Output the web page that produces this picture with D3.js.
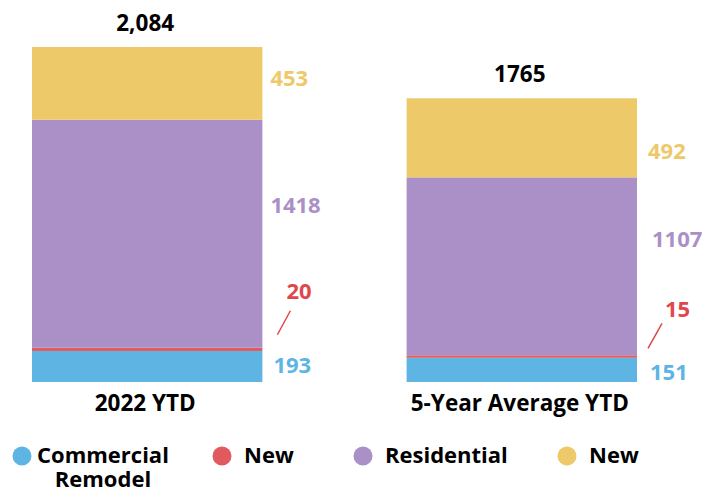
<!DOCTYPE html>
<html>
<head>
<meta charset="utf-8">
<script src="https://cdn.jsdelivr.net/npm/d3@7"></script>
<style>
  body { margin: 0; background: #fff; }
  text { font-family: "Open Sans", sans-serif; font-weight: 700; }
</style>
</head>
<body>
<div id="chart"></div>
<script>
// Data
const categories = ["2022 YTD", "5-Year Average YTD"];
const totalLabels = ["2,084", "1765"];
const commercialRemodel = [193, 151];
const commercialNew = [20, 15];
const residential = [1418, 1107];
const residentialNew = [453, 492];
const seriesNames = ["Commercial Remodel", "New", "Residential", "New"];

const keys = ["cr", "cn", "rr", "rn"];
const colors = {cr: "#5EB5E4", cn: "#E05A5E", rr: "#AA90C7", rn: "#EEC96A"};
const textColors = {cr: "#5EB5E4", cn: "#E0474C", rr: "#AA90C7", rn: "#EEC96A"};

// label nudges (px) from bar right edge / segment top, per category
const labelDx = {cr: [11, 13], cn: [24, 28], rr: [8, 15], rn: [8, 11]};
const labelDy = {cr: [22, 22], cn: [-49, -38], rr: [93, 70], rn: [39, 61]};

const table = categories.map((c, i) => ({
  cat: c,
  cr: commercialRemodel[i],
  cn: commercialNew[i],
  rr: residential[i],
  rn: residentialNew[i]
}));

const width = 706, height = 493;
const svg = d3.select("#chart").append("svg")
  .attr("width", width)
  .attr("height", height);

const x = d3.scaleBand()
  .domain(categories)
  .range([32, 637])
  .paddingInner(0.385);

const y = d3.scaleLinear()
  .domain([0, 2084])
  .range([382, 47]);

const stack = d3.stack().keys(keys)(table);

// Bars
svg.append("g").selectAll("g")
  .data(stack)
  .join("g")
  .attr("fill", s => colors[s.key])
  .selectAll("rect")
  .data(s => s)
  .join("rect")
  .attr("x", d => x(d.data.cat))
  .attr("y", d => y(d[1]))
  .attr("width", x.bandwidth())
  .attr("height", d => y(d[0]) - y(d[1]));

// Segment value labels
stack.forEach(s => {
  s.forEach((d, i) => {
    const right = x(d.data.cat) + x.bandwidth();
    const top = y(d[1]);
    svg.append("text")
      .attr("x", right + labelDx[s.key][i])
      .attr("y", top + labelDy[s.key][i])
      .attr("font-size", "22px")
      .attr("fill", textColors[s.key])
      .text(d.data[s.key]);
    if (s.key === "cn") {
      const lead = [[-13, -7], [-37, -32]];
      svg.append("line")
        .attr("x1", right + (i === 0 ? 15 : 11))
        .attr("y1", top + lead[0][i])
        .attr("x2", right + (i === 0 ? 28 : 25))
        .attr("y2", top + lead[1][i])
        .attr("stroke", textColors.cn)
        .attr("stroke-width", 1.5);
    }
  });
});

// Totals
svg.append("g").selectAll("text")
  .data(table)
  .join("text")
  .attr("x", d => x(d.cat) + x.bandwidth() / 2 - 2)
  .attr("y", (d, i) => y(d.cr + d.cn + d.rr + d.rn) - 16)
  .attr("text-anchor", "middle")
  .attr("font-size", "22.5px")
  .attr("fill", "#000")
  .text((d, i) => totalLabels[i]);

// Category labels
svg.append("g").selectAll("text")
  .data(categories)
  .join("text")
  .attr("x", d => x(d) + x.bandwidth() / 2 - 2)
  .attr("y", y(0) + 29)
  .attr("text-anchor", "middle")
  .attr("font-size", "22.5px")
  .attr("fill", "#000")
  .text(d => d);

// Legend
const legendX = [22, 222, 363, 567];
const legend = svg.append("g").attr("transform", "translate(0,456)");
keys.forEach((k, i) => {
  const g = legend.append("g").attr("transform", `translate(${legendX[i]},0)`);
  g.append("circle").attr("r", 9.5).attr("fill", colors[k]);
  const words = seriesNames[i].split(" ");
  const tx = i === 0 ? 15 : 22;
  const t = g.append("text")
    .attr("x", tx)
    .attr("y", 7)
    .attr("font-size", "22px")
    .attr("fill", "#000")
    .text(words[0]);
  if (words.length > 1) {
    const w = t.node().getComputedTextLength();
    g.append("text")
      .attr("x", tx + w / 2)
      .attr("y", 31)
      .attr("text-anchor", "middle")
      .attr("font-size", "22px")
      .attr("fill", "#000")
      .text(words.slice(1).join(" "));
  }
});
</script>
</body>
</html>
